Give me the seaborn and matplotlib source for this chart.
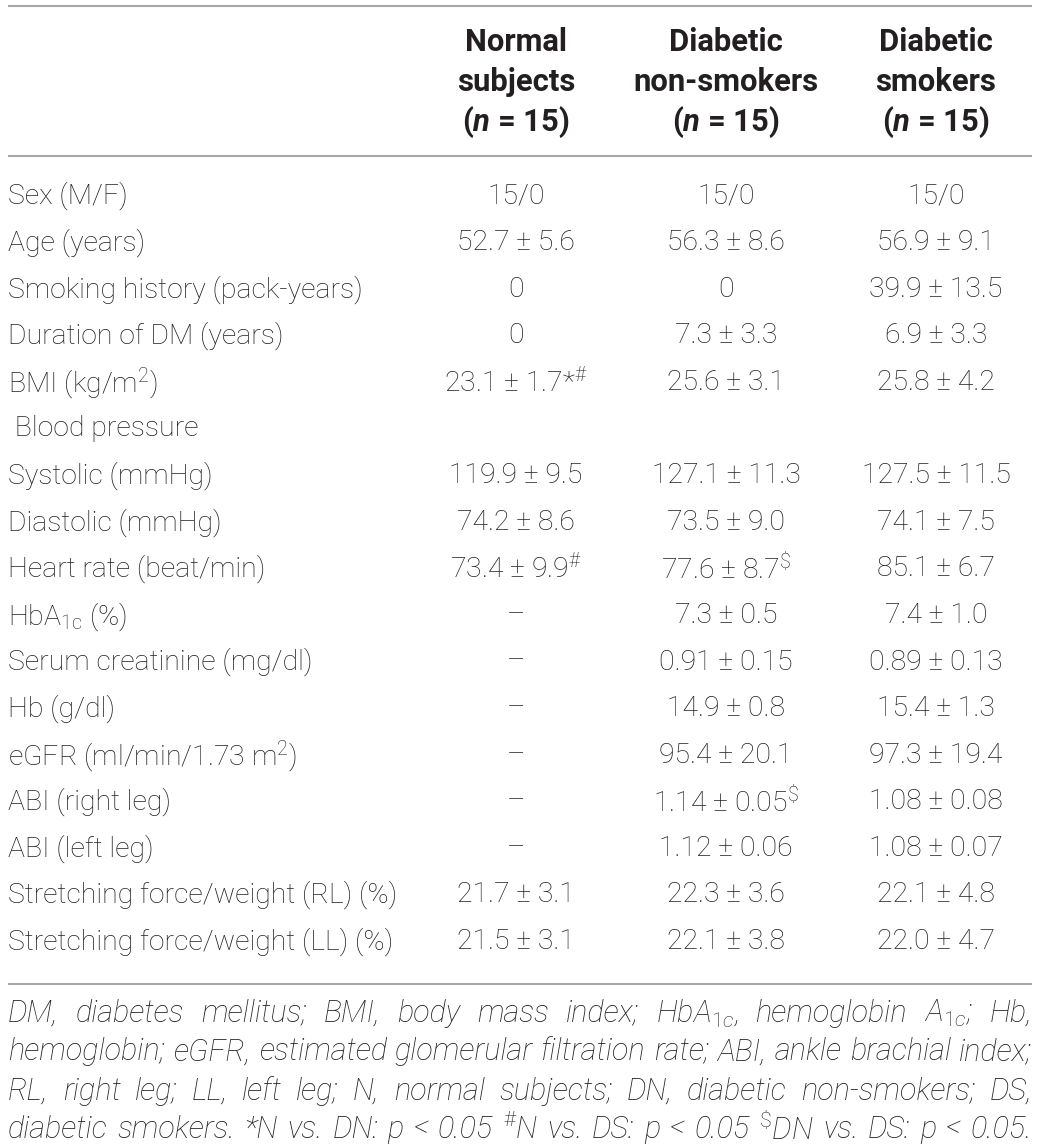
import matplotlib
matplotlib.use("Agg")
import matplotlib.pyplot as plt
from matplotlib import font_manager as fm
import seaborn as sns

# ---------------- data ----------------
header_line1 = ["Normal", "Diabetic", "Diabetic"]
header_line2 = ["subjects", "non-smokers", "smokers"]
group_n = [15, 15, 15]

row_labels = [
    "Sex (M/F)",
    "Age (years)",
    "Smoking history (pack-years)",
    "Duration of DM (years)",
    "BMI (kg/m$^{2}$)",
    " Blood pressure",
    "Systolic (mmHg)",
    "Diastolic (mmHg)",
    "Heart rate (beat/min)",
    "HbA$_{\\mathrm{1c}}$ (%)",
    "Serum creatinine (mg/dl)",
    "Hb (g/dl)",
    "eGFR (ml/min/1.73 m$^{2}$)",
    "ABI (right leg)",
    "ABI (left leg)",
    "Stretching force/weight (RL) (%)",
    "Stretching force/weight (LL) (%)",
]

normal_vals = [
    "15/0", "52.7 ± 5.6", "0", "0", "23.1 ± 1.7*$^{\\#}$", "",
    "119.9 ± 9.5", "74.2 ± 8.6", "73.4 ± 9.9$^{\\#}$", "–", "–", "–", "–",
    "–", "–", "21.7 ± 3.1", "21.5 ± 3.1",
]
dn_vals = [
    "15/0", "56.3 ± 8.6", "0", "7.3 ± 3.3", "25.6 ± 3.1", "",
    "127.1 ± 11.3", "73.5 ± 9.0", "77.6 ± 8.7$^{\\$}$", "7.3 ± 0.5",
    "0.91 ± 0.15", "14.9 ± 0.8", "95.4 ± 20.1", "1.14 ± 0.05$^{\\$}$",
    "1.12 ± 0.06", "22.3 ± 3.6", "22.1 ± 3.8",
]
ds_vals = [
    "15/0", "56.9 ± 9.1", "39.9 ± 13.5", "6.9 ± 3.3", "25.8 ± 4.2", "",
    "127.5 ± 11.5", "74.1 ± 7.5", "85.1 ± 6.7", "7.4 ± 1.0",
    "0.89 ± 0.13", "15.4 ± 1.3", "97.3 ± 19.4", "1.08 ± 0.08",
    "1.08 ± 0.07", "22.1 ± 4.8", "22.0 ± 4.7",
]

footnote_lines = [
    "DM, diabetes mellitus; BMI, body mass index; HbA$_{\\mathit{1c}}$, hemoglobin A$_{\\mathit{1c}}$; Hb,",
    "hemoglobin; eGFR, estimated glomerular filtration rate; ABI, ankle brachial index;",
    "RL, right leg; LL, left leg; N, normal subjects; DN, diabetic non-smokers; DS,",
    "diabetic smokers. *N vs. DN: p < 0.05 $^{\\#}$N vs. DS: p < 0.05 $^{\\$}$DN vs. DS: p < 0.05.",
]

# ---------------- style ----------------
sns.set_theme(style="white")
FAM = "Roboto"
plt.rcParams["font.family"] = [FAM, "DejaVu Sans"]
plt.rcParams["mathtext.fontset"] = "custom"
plt.rcParams["mathtext.rm"] = FAM + ":light"
plt.rcParams["mathtext.it"] = FAM + ":italic:light"
plt.rcParams["mathtext.bf"] = FAM + ":bold"
plt.rcParams["mathtext.bfit"] = FAM + ":italic:bold"

W, H = 1040, 1145
fig = plt.figure(figsize=(W / 100, H / 100), dpi=100)
ax = fig.add_axes([0, 0, 1, 1])
ax.set_xlim(0, W)
ax.set_ylim(H, 0)
ax.axis("off")
fig.patch.set_facecolor("white")
renderer = fig.canvas.get_renderer()

TXT = "#231f20"
RULE = "#a7a7a7"
BODY_W = "light"


def width_of(s, size, **kw):
    t = ax.text(0, 0, s, fontsize=size, **kw)
    w = t.get_window_extent(renderer).width
    t.remove()
    return w


# fit font sizes to measured widths in the reference
body_size = 20 * 390 / width_of("Stretching force/weight (RL) (%)", 20, fontweight=BODY_W)
head_size = 20 * 185 / width_of("non-smokers", 20, fontweight="bold")

x_label = 8
col_x = [516, 726, 936]
y_head = [42, 82, 122]
y_row0, dy = 193, 46.6

# rules
for yy in (6, 156, 984):
    ax.plot([8, 1032], [yy, yy], color=RULE, lw=1.5, solid_capstyle="butt")

# header
for j, cx in enumerate(col_x):
    ax.text(cx, y_head[0], header_line1[j], fontsize=head_size, fontweight="bold",
            ha="center", va="center", color=TXT)
    ax.text(cx, y_head[1], header_line2[j], fontsize=head_size, fontweight="bold",
            ha="center", va="center", color=TXT)
    ax.text(cx, y_head[2], "($\\mathbfit{n}$ = %d)" % group_n[j], fontsize=head_size,
            fontweight="bold", ha="center", va="center", color=TXT)

# body rows
for i, lab in enumerate(row_labels):
    y = y_row0 + i * dy
    ax.text(x_label, y, lab, fontsize=body_size, fontweight=BODY_W, ha="left",
            va="center_baseline", color=TXT)
    for cx, col in zip(col_x, (normal_vals, dn_vals, ds_vals)):
        if col[i]:
            ax.text(cx, y, col[i], fontsize=body_size, fontweight=BODY_W, ha="center",
                    va="center_baseline", color=TXT)

# footnote, justified
x0, x1 = 8, 1032
fkw = dict(style="italic", fontweight=BODY_W)
space_ref = width_of("a b", 20, **fkw) - width_of("ab", 20, **fkw)
natural = []
for line in footnote_lines:
    ws = line.split(" ")
    natural.append(sum(width_of(w, 20, **fkw) for w in ws) + space_ref * (len(ws) - 1))
foot_size = 20 * (x1 - x0 - 6) / max(natural)

y_foot = [1010, 1049, 1088, 1126]
for k, line in enumerate(footnote_lines):
    words = line.split(" ")
    widths = [width_of(w, foot_size, **fkw) for w in words]
    gap = (x1 - x0 - sum(widths)) / (len(words) - 1)
    x = x0
    for w, wd in zip(words, widths):
        ax.text(x, y_foot[k], w, fontsize=foot_size, ha="left",
                va="center_baseline", color=TXT, **fkw)
        x += wd + gap

fig.savefig("out.png", dpi=100, facecolor="white")
